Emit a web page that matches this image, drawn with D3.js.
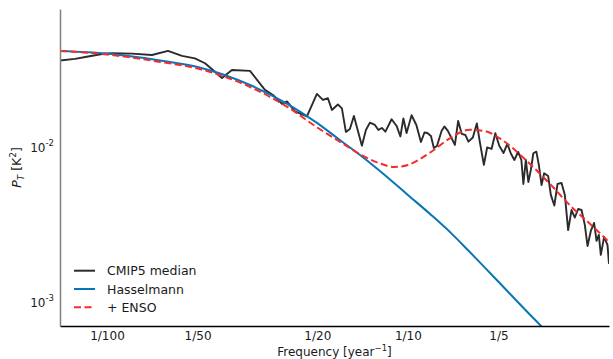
<!DOCTYPE html>
<html>
<head>
<meta charset="utf-8">
<script src="https://cdn.jsdelivr.net/npm/d3@7"></script>
<style>
  html, body { margin: 0; padding: 0; background: #ffffff; }
  svg { display: block; font-family: "DejaVu Sans", sans-serif; }
</style>
</head>
<body>
<svg id="chart" width="613" height="359"></svg>
<script>
// CMIP5 multi-model median power spectrum
const cmipFreq = [0.00698,0.00783,0.00865,0.00963,0.01039,0.01211,0.01411,0.01595,0.01775,0.0196,
  0.02117,0.0225,0.02411,0.02602,0.02987,0.03349,0.03561,0.03815,0.03963,0.04213,
  0.04618,0.04985,0.05219,0.05423,0.05591,0.05853,0.06035,0.06223,0.06416,0.06616,
  0.07034,0.07253,0.07479,0.0777,0.0798,0.08197,0.08419,0.08829,0.09173,0.09443,
  0.09661,0.09901,0.10287,0.1067,0.1105,0.1135,0.1161,0.1193,0.122,0.1249,
  0.1294,0.1322,0.1358,0.139,0.1433,0.1469,0.1511,0.1552,0.1589,0.1644,
  0.1695,0.1735,0.1789,0.1834,0.1897,0.1953,0.2014,0.208,0.2141,0.2199,
  0.2259,0.2325,0.2383,0.242,0.2466,0.2514,0.2562,0.2612,0.2673,0.2724,
  0.2781,0.2837,0.2925,0.2986,0.3067,0.3143,0.3241,0.3324,0.3409,0.3499,
  0.3588,0.368,0.3777,0.3873,0.3954,0.4055,0.4158,0.4236,0.4311,0.4377,
  0.4489,0.4607,0.466];
const cmipPower = [0.0358,0.0367,0.0380,0.0395,0.0399,0.0397,0.0389,0.0413,0.0384,0.0370,
  0.0344,0.03115,0.02766,0.03115,0.0307,0.02315,0.02149,0.0188,0.01951,0.01682,
  0.01562,0.02182,0.01995,0.02046,0.0172,0.01866,0.01759,0.0124,0.01297,0.01573,
  0.01012,0.01278,0.01424,0.01376,0.01278,0.01316,0.01246,0.01498,0.01356,0.0116,
  0.01516,0.01222,0.01589,0.01376,0.01069,0.01231,0.01222,0.01169,0.00978,0.01007,
  0.01259,0.01346,0.01259,0.01152,0.01023,0.0146,0.01204,0.01186,0.01074,0.01143,
  0.01407,0.01061,0.0076,0.00985,0.00964,0.01217,0.01007,0.00908,0.01038,0.00901,
  0.00818,0.00922,0.00818,0.00573,0.00818,0.0059,0.00705,0.00904,0.00926,0.0076,
  0.00564,0.00671,0.00645,0.00487,0.00416,0.00573,0.00581,0.00487,0.00289,0.00389,
  0.00348,0.00395,0.00389,0.00312,0.00228,0.00285,0.00321,0.00246,0.00269,0.002,
  0.00261,0.00231,0.00175];

// Hasselmann (red-noise) fit
const hasselFreq = [0.00698,0.01,0.015,0.02,0.03,0.04,0.05,0.06,0.07,0.08,0.09,0.1,0.12,0.14,0.16,0.18,0.2,0.25,0.3];
const hasselPower = [0.0413,0.0397,0.0358,0.0325,0.0248,0.0187,0.01415,0.01085,0.00868,0.00705,0.00581,0.00487,0.00359,0.00273,0.0021,0.00166,0.00134,0.000852,0.000595];

// Hasselmann + ENSO fit
const ensoFreq = [0.00698,0.01,0.015,0.02,0.03,0.04,0.05,0.06,0.07,0.08,0.09,0.1,0.12,0.14,0.16,0.18,0.2,0.25,0.3,0.35,0.4,0.466];
const ensoPower = [0.0413,0.0392,0.0351,0.0318,0.0241,0.01785,0.01325,0.01061,0.00881,0.00782,0.00737,0.0076,0.00928,0.0115,0.0128,0.01256,0.01141,0.00797,0.0056,0.00407,0.00321,0.00242];

// Axis ticks
const xTickValues = [0.01, 0.02, 0.05, 0.1, 0.2];
const xTickLabels = ["1/100", "1/50", "1/20", "1/10", "1/5"];
const yTickValues = [0.01, 0.001];
const yTickExponents = ["-2", "-3"];

const legendLabels = ["CMIP5 median", "Hasselmann", "+ ENSO"];

const svg = d3.select("#chart");
const plot = { left: 60, right: 609, top: 9, bottom: 326 };

const x = d3.scaleLog().domain([0.00698, 0.466]).range([plot.left, plot.right]);
const y = d3.scaleLog().domain([0.000695, 0.077]).range([plot.bottom, plot.top]);

const colors = { cmip: "#2b2b2b", hassel: "#0a74b9", enso: "#f42c2c" };

svg.append("defs").append("clipPath").attr("id", "plotclip")
  .append("rect")
  .attr("x", plot.left).attr("y", plot.top)
  .attr("width", plot.right - plot.left).attr("height", plot.bottom - plot.top);

const g = svg.append("g").attr("clip-path", "url(#plotclip)");

const toPoints = (fs, ps) => fs.map((f, i) => [f, ps[i]]);

const straight = d3.line().x(d => x(d[0])).y(d => y(d[1]));
const smooth = d3.line().x(d => x(d[0])).y(d => y(d[1])).curve(d3.curveMonotoneX);

g.append("path")
  .datum(toPoints(cmipFreq, cmipPower))
  .attr("d", straight)
  .attr("fill", "none")
  .attr("stroke", colors.cmip)
  .attr("stroke-width", 1.9)
  .attr("stroke-linejoin", "round");

g.append("path")
  .datum(toPoints(hasselFreq, hasselPower))
  .attr("d", smooth)
  .attr("fill", "none")
  .attr("stroke", colors.hassel)
  .attr("stroke-width", 2);

g.append("path")
  .datum(toPoints(ensoFreq, ensoPower))
  .attr("d", smooth)
  .attr("fill", "none")
  .attr("stroke", colors.enso)
  .attr("stroke-width", 2)
  .attr("stroke-dasharray", "7,3.5");

// Axes
const xAxis = d3.axisBottom(x)
  .tickValues(xTickValues)
  .tickFormat((d, i) => xTickLabels[i])
  .tickSize(0).tickSizeOuter(0).tickPadding(5);

const xg = svg.append("g")
  .attr("transform", `translate(0,${plot.bottom})`)
  .call(xAxis);
xg.select(".domain").attr("stroke", "#000").attr("stroke-width", 1.3);
xg.selectAll("text")
  .attr("font-family", "DejaVu Sans, sans-serif")
  .attr("font-size", 12)
  .attr("fill", "#1a1a1a");

const yAxis = d3.axisLeft(y)
  .tickValues(yTickValues)
  .tickFormat("")
  .tickSize(0).tickSizeOuter(0).tickPadding(6);

const yg = svg.append("g")
  .attr("transform", `translate(${plot.left},0)`)
  .call(yAxis);
yg.select(".domain").attr("stroke", "#808080").attr("stroke-width", 1.5);
yg.selectAll(".tick text").each(function(d, i) {
  const t = d3.select(this)
    .attr("font-family", "DejaVu Sans, sans-serif")
    .attr("font-size", 12)
    .attr("fill", "#1a1a1a")
    .attr("dy", "0.45em");
  t.append("tspan").text("10");
  t.append("tspan").attr("font-size", 8.5).attr("dy", "-0.75em").text(yTickExponents[i]);
});

// Axis titles
const xt = svg.append("text")
  .attr("x", (plot.left + plot.right) / 2)
  .attr("y", 356)
  .attr("text-anchor", "middle")
  .attr("font-size", 12)
  .attr("fill", "#1a1a1a");
xt.append("tspan").text("Frequency [year");
xt.append("tspan").attr("font-size", 8.5).attr("dy", "-5").text("\u22121");
xt.append("tspan").attr("dy", "5").text("]");

const yt = svg.append("text")
  .attr("transform", `translate(21,${(plot.top + plot.bottom) / 2}) rotate(-90)`)
  .attr("text-anchor", "middle")
  .attr("font-size", 12.5)
  .attr("fill", "#1a1a1a");
yt.append("tspan").attr("font-style", "italic").text("P");
yt.append("tspan").attr("font-style", "italic").attr("font-size", 9).attr("dy", "3").text("T");
yt.append("tspan").attr("dy", "-3").text(" [K");
yt.append("tspan").attr("font-size", 9).attr("dy", "-5").text("2");
yt.append("tspan").attr("dy", "5").text("]");

// Legend
const legendStyles = [
  { color: colors.cmip, dash: null },
  { color: colors.hassel, dash: null },
  { color: colors.enso, dash: "7,3.5" }
];
const legend = svg.append("g");
legendLabels.forEach((label, i) => {
  const ly = 270.7 + i * 18.3;
  legend.append("line")
    .attr("x1", 74).attr("x2", 95)
    .attr("y1", ly).attr("y2", ly)
    .attr("stroke", legendStyles[i].color)
    .attr("stroke-width", 2)
    .attr("stroke-dasharray", legendStyles[i].dash);
  legend.append("text")
    .attr("x", 107).attr("y", ly)
    .attr("dy", "0.36em")
    .attr("font-size", 12.5)
    .attr("fill", "#1a1a1a")
    .text(label);
});
</script>
</body>
</html>
